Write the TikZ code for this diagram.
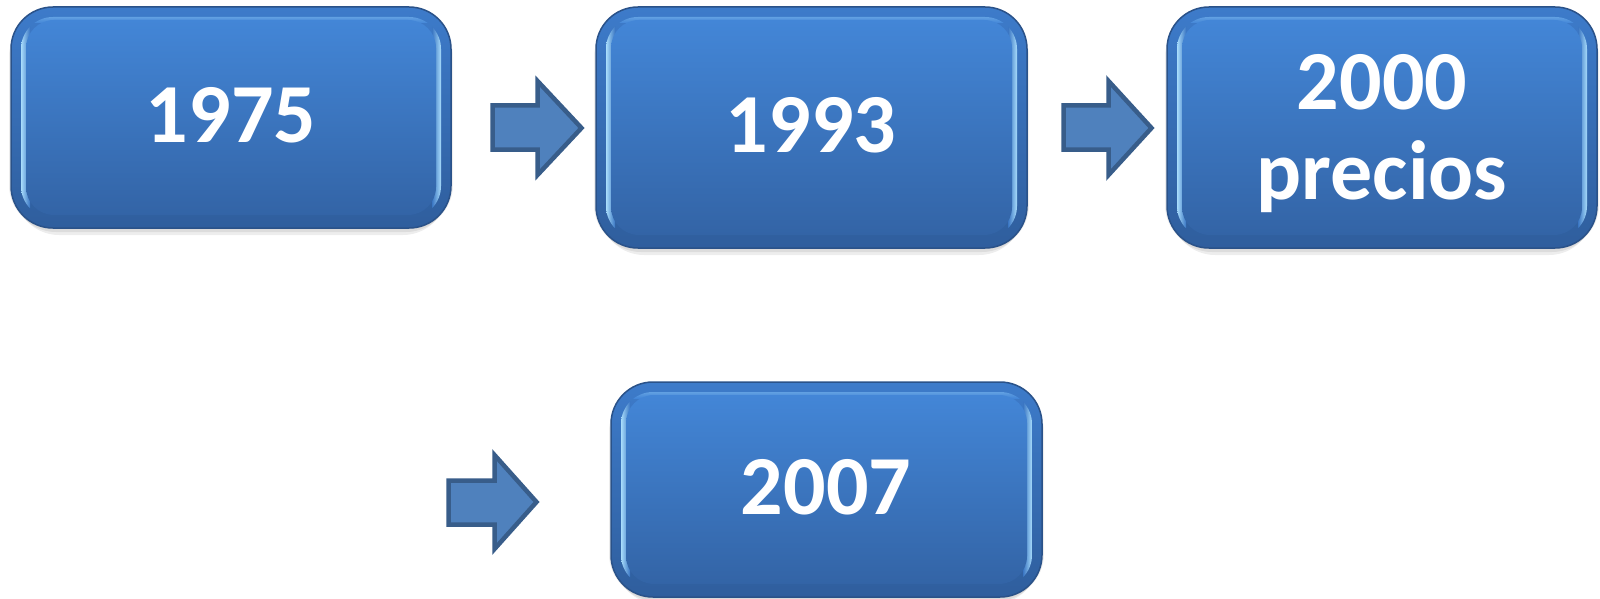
\documentclass[tikz,border=0pt]{standalone}
\usepackage{fontspec}
\setmainfont{Carlito}
\usetikzlibrary{calc}
\definecolor{facetop}{HTML}{4386D7}
\definecolor{facebot}{HTML}{3364A6}
\definecolor{ringtop}{HTML}{3D7BCA}
\definecolor{ringbot}{HTML}{2F5E9D}
\definecolor{edgecol}{HTML}{2A5289}
\definecolor{bevlight}{HTML}{A8DCFB}
\definecolor{arrfill}{HTML}{4F81BD}
\definecolor{arrdraw}{HTML}{385D8A}
\tikzset{
  boxtext/.style={text=white, font=\bfseries\fontsize{84}{90}\selectfont, inner sep=0pt, align=center},
  blockarrow/.style={fill=arrfill, draw=arrdraw, line width=4.5pt, line join=miter},
  shadowpart/.style={fill=black, opacity=0.07},
}
% #1 x1, #2 y1, #3 x2, #4 y2
\newcommand\glassbox[4]{%
  \foreach \s in {2,5,8}{\fill[shadowpart, rounded corners=44pt] ({#1+\s-4},{#2+4+\s}) rectangle ({#3-\s+4},{#4+\s-1});}
  \shade[top color=ringtop, bottom color=ringbot, draw=edgecol, line width=1.5pt, rounded corners=42pt] (#1,#2) rectangle (#3,#4);
  \begin{scope}
    \clip[rounded corners=32pt] ({#1+10},{#2+10}) rectangle ({#3-10},{#4-10});
    \shade[left color=bevlight, right color=ringtop!85!ringbot] ({#1+10},{#2}) rectangle ({#1+19},{#4});
    \shade[right color=bevlight, left color=ringtop!85!ringbot] ({#3-19},{#2}) rectangle ({#3-10},{#4});
    \shade[top color=facetop!70!bevlight, bottom color=facetop] ({#1+19},{#2+10}) rectangle ({#3-19},{#2+16});
  \end{scope}
  \shade[top color=facetop, bottom color=facebot, rounded corners=28pt] ({#1+15},{#2+13}) rectangle ({#3-15},{#4-13});
}
\begin{document}
\begin{tikzpicture}[x=1pt, y=-1pt]
\useasboundingbox (0,0) rectangle (1600,599);
\fill[white] (0,0) rectangle (1600,599);

\glassbox{11}{7}{451}{228}
\glassbox{596}{7}{1027}{248}
\glassbox{1167}{7}{1597}{248}
\glassbox{611}{382}{1042}{597}

\node[boxtext] (b1) at (231,115) {1975};
\node[boxtext] (b2) at (811,125) {1993};
\node[boxtext, anchor=north] (b3) at (1382,54) {2000\\precios};
\node[boxtext] (b4) at (826,487) {2007};

\draw[blockarrow] (492.5,105.5) -- (537.5,105.5) -- (537.5,81) -- (581.5,128) -- (537.5,175) -- (537.5,149.5) -- (492.5,149.5) -- cycle;
\draw[blockarrow] (1063.5,105.5) -- (1108.5,105.5) -- (1108.5,81) -- (1151.5,128) -- (1108.5,175) -- (1108.5,149.5) -- (1063.5,149.5) -- cycle;
\draw[blockarrow] (448.5,480.5) -- (494.5,480.5) -- (494.5,455) -- (536.5,502) -- (494.5,549) -- (494.5,524.5) -- (448.5,524.5) -- cycle;
\end{tikzpicture}
\end{document}
